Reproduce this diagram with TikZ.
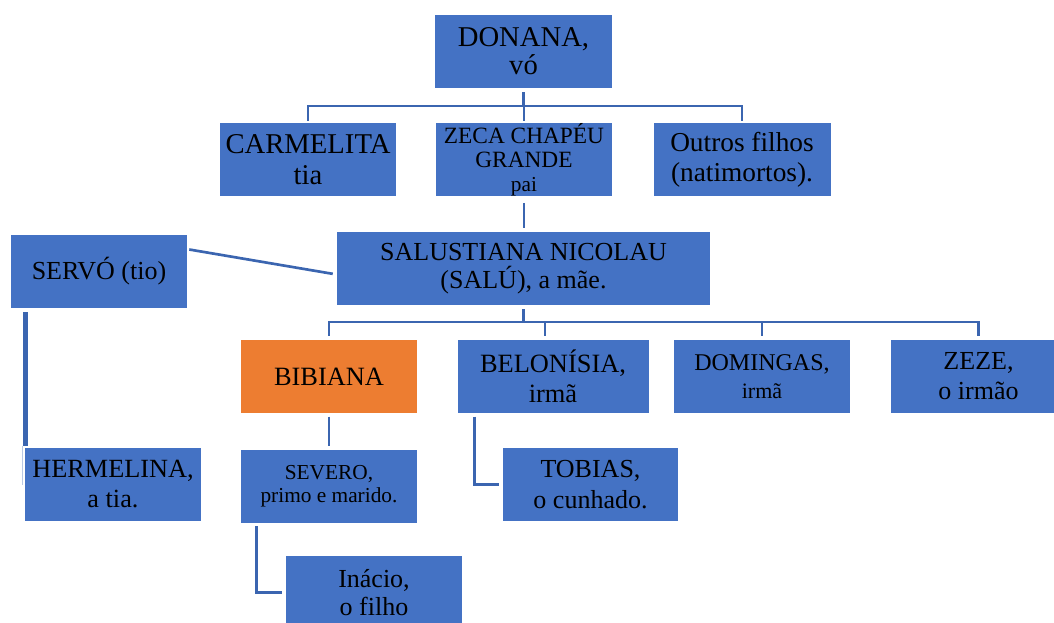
\documentclass[tikz,border=0pt]{standalone}
\usepackage{fontspec}
\setmainfont{LiberationSerif}[Extension=.ttf,UprightFont=*-Regular,BoldFont=*-Bold]
\definecolor{azul}{RGB}{68,114,196}
\definecolor{laranja}{RGB}{237,125,49}
\definecolor{traco}{RGB}{59,101,176}
\newcommand{\tam}[2]{\fontsize{#1}{#2}\selectfont}
\tikzset{
  pessoa/.style={rectangle,fill=azul,inner sep=0pt,align=center,text=black,
    minimum width=132pt,minimum height=54.75pt},
  linha/.style={draw=traco,line width=2pt},
  grossa/.style={draw=traco,line width=4pt}
}
\begin{document}
\begin{tikzpicture}[x=.75pt,y=-.75pt]
  \useasboundingbox (0,0) rectangle (1054,622);
  \node[pessoa,minimum width=132.75pt,font=\tam{21.5}{21}] (donana) at (523.5,51.5) {DONANA,\\vó};
  \node[pessoa,font=\tam{21.5}{23}] (carmelita) at (308,159.5) {CARMELITA\\tia};
  \node[pessoa,font=\tam{17.5}{18}] (zeca) at (524,159.5) {ZECA CHAPÉU\\GRANDE\\{\tam{16}{18}pai}};
  \node[pessoa,minimum width=132.75pt,font=\tam{20.5}{22.5}] (outros) at (742,159.5) {Outros filhos\\(natimortos).};
  \node[pessoa,font=\tam{19.5}{22}] (servo) at (99,271.5) {SERVÓ (tio)};
  \node[pessoa,minimum width=279.75pt,font=\tam{19.5}{21.5}] (salustiana) at (523.5,268.5) {SALUSTIANA NICOLAU\\(SALÚ), a mãe.};
  \node[pessoa,fill=laranja,font=\tam{19.8}{22}] (bibiana) at (329,376.5) {BIBIANA};
  \node[pessoa,minimum width=143.25pt,font=\tam{19.8}{22.5}] (belonisia) at (553,376.5) {BELONÍSIA,\\irmã};
  \node[pessoa,font=\tam{18}{21.5}] (domingas) at (762,376.5) {DOMINGAS,\\{\tam{16.5}{21.5}irmã}};
  \node[pessoa,font=\tam{19.5}{22.5}] (zeze) at (978.5,376.5) {ZEZE,\\o irmão};
  \node[pessoa,font=\tam{19.7}{22.5}] (hermelina) at (113,484.5) {HERMELINA,\\a tia.};
  \node[pessoa,font=\tam{16}{17.5}] (severo) at (329,486) {SEVERO,\\primo e marido.};
  \node[pessoa,minimum width=131.25pt,font=\tam{19.5}{23}] (tobias) at (590.5,484.5) {TOBIAS,\\o cunhado.};
  \node[pessoa,font=\tam{19.5}{21}] (inacio) at (374,592.5) {Inácio,\\o filho};
  \coordinate (nivel1) at (524,106);
  \coordinate (nivel2) at (523.5,322);
  \draw[linha] ([yshift=-3pt]donana.south) -- (donana.south |- nivel1);
  \draw[linha] ([yshift=1.5pt]carmelita.north) |- (nivel1 -| zeca.north) -| ([yshift=1.5pt]outros.north);
  \draw[linha] (nivel1 -| zeca.north) -- ([yshift=1.5pt]zeca.north);
  \draw[linha] ([yshift=-5pt]zeca.south) -- ([yshift=3pt]salustiana.north -| zeca.south);
  \draw[linha] ([xshift=1.5pt,yshift=16.5pt]servo.east) -- ([xshift=-3pt,yshift=-4pt]salustiana.west);
  \draw[grossa] ([xshift=.4pt,yshift=1.5pt]hermelina.north west) -- ([xshift=.4pt,yshift=-3pt]hermelina.north west |- servo.south);
  \draw[draw=traco!35,line width=.8pt] ([xshift=-2pt,yshift=1.5pt]hermelina.north west) -- ([xshift=-2pt]hermelina.west);
  \draw[linha] ([yshift=-3pt]salustiana.south) -- (nivel2);
  \draw[linha] ([yshift=3pt]bibiana.north) |- (nivel2 -| zeze.north) -- ([yshift=3pt]zeze.north);
  \draw[linha] ([xshift=-6pt,yshift=3pt]belonisia.north) -- ([xshift=-6pt]belonisia.north |- nivel2);
  \draw[linha] ([yshift=3pt]domingas.north) -- (domingas.north |- nivel2);
  \draw[linha] ([yshift=-2.5pt]bibiana.south) -- ([yshift=2.5pt]severo.north);
  \draw[linha] ([xshift=12pt,yshift=-2.5pt]severo.south west) |- ([xshift=-2.5pt]inacio.west);
  \draw[linha] ([xshift=12.75pt,yshift=-2.5pt]belonisia.south west) |- ([xshift=-2.5pt]tobias.west);
\end{tikzpicture}
\end{document}
